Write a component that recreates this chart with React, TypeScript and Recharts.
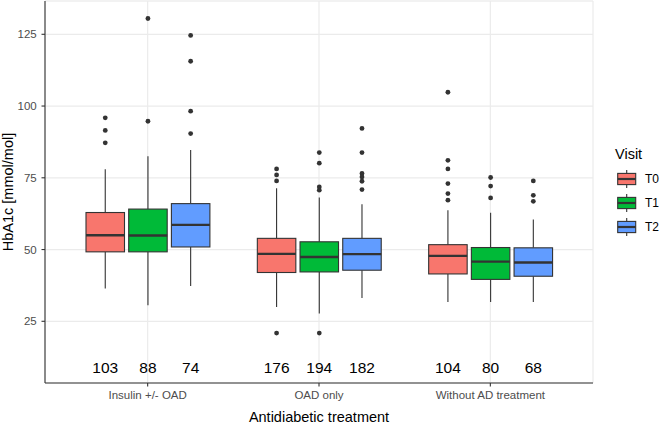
import React from 'react';
import { BarChart, Bar, XAxis, YAxis, CartesianGrid, Legend } from 'recharts';

const FONT = '"Liberation Sans", Arial, Helvetica, sans-serif';

const groups = ['Insulin +/- OAD', 'OAD only', 'Without AD treatment'];
const visits = ['T0', 'T1', 'T2'];
const visitColors = ['#F8766D', '#00BA38', '#619CFF'];

// [lower whisker, Q1, median, Q3, upper whisker] per treatment group
const boxT0 = [
  [36.4, 49.2, 55.0, 62.9, 78.0],
  [30.0, 42.0, 48.5, 53.9, 71.4],
  [31.7, 41.5, 47.8, 51.7, 63.7],
];
const boxT1 = [
  [30.6, 49.2, 54.9, 64.1, 82.5],
  [27.7, 42.2, 47.4, 52.7, 68.1],
  [31.7, 39.6, 45.8, 50.7, 62.8],
];
const boxT2 = [
  [37.3, 50.9, 58.6, 66.0, 84.7],
  [33.1, 42.8, 48.4, 53.9, 65.8],
  [31.7, 40.7, 45.5, 50.6, 60.5],
];

const outT0 = [
  [95.9, 91.5, 87.2],
  [78.1, 76.0, 73.9, 20.9],
  [104.8, 81.1, 78.1, 73.0, 69.5, 67.2],
];
const outT1 = [
  [130.5, 94.7],
  [83.8, 80.1, 71.8, 70.7, 20.9],
  [75.1, 72.1, 68.0],
];
const outT2 = [
  [124.6, 115.6, 98.2, 90.4],
  [92.2, 83.8, 76.5, 75.3, 73.8, 70.9],
  [73.9, 68.9, 66.8],
];

const nT0 = [103, 176, 104];
const nT1 = [88, 194, 80];
const nT2 = [74, 182, 68];

const yTicks = [25, 50, 75, 100, 125];
const yMinor = [12.5, 37.5, 62.5, 87.5, 112.5];
const yDomain = [3.5, 136.6];
const countLabelValue = 9;

const boxes: Record<string, number[][]> = { T0: boxT0, T1: boxT1, T2: boxT2 };
const outs: Record<string, number[][]> = { T0: outT0, T1: outT1, T2: outT2 };
const ns: Record<string, number[]> = { T0: nT0, T1: nT1, T2: nT2 };

const data = groups.map((g, i) => {
  const row: any = { group: g };
  visits.forEach((v) => {
    row[v] = boxes[v][i];
    row[v + 'out'] = outs[v][i];
    row[v + 'n'] = ns[v][i];
  });
  return row;
});

const STROKE = '#333333';

function renderBox(props: any, visit: string) {
  const { x, y, width, height, payload, fill } = props;
  const stats: number[] = payload[visit];
  const outliers: number[] = payload[visit + 'out'];
  const n: number = payload[visit + 'n'];
  const top = Math.min(y, y + height);
  const bot = Math.max(y, y + height);
  const lo = stats[0];
  const hi = stats[4];
  const py = (v: number) => bot - ((v - lo) / (hi - lo)) * (bot - top);
  const cx = x + width / 2;
  const q1 = py(stats[1]);
  const med = py(stats[2]);
  const q3 = py(stats[3]);
  return (
    <g>
      <line x1={cx} x2={cx} y1={py(hi)} y2={q3} stroke={STROKE} strokeWidth={1.1} />
      <line x1={cx} x2={cx} y1={q1} y2={py(lo)} stroke={STROKE} strokeWidth={1.1} />
      <rect x={x} y={q3} width={width} height={q1 - q3} fill={fill} stroke={STROKE} strokeWidth={1.1} />
      <line x1={x} x2={x + width} y1={med} y2={med} stroke={STROKE} strokeWidth={2.4} />
      {outliers.map((o, i) => (
        <circle key={i} cx={cx} cy={py(o)} r={2.4} fill={STROKE} />
      ))}
      <text
        x={cx}
        y={py(countLabelValue)}
        textAnchor="middle"
        dominantBaseline="central"
        fontSize={15.5}
        fontFamily={FONT}
        fill="#000"
      >
        {n}
      </text>
    </g>
  );
}

function renderLegend(props: any) {
  const payload = props.payload || [];
  return (
    <svg width={51} height={100} style={{ display: 'block' }}>
      <text x={5} y={19} fontSize={14.5} fontFamily={FONT} fill="#000">
        Visit
      </text>
      {payload.map((item: any, i: number) => {
        const cy = 39 + i * 24;
        const color = item.color || visitColors[i];
        return (
          <g key={i}>
            <line x1={16.7} x2={16.7} y1={cy - 9} y2={cy + 9} stroke={STROKE} strokeWidth={1.1} />
            <rect x={7.7} y={cy - 5.6} width={18} height={11.2} fill={color} stroke={STROKE} strokeWidth={1.1} />
            <line x1={7.7} x2={25.7} y1={cy} y2={cy} stroke={STROKE} strokeWidth={2.2} />
            <text x={35} y={cy} dominantBaseline="central" fontSize={12} fontFamily={FONT} fill="#000">
              {item.value}
            </text>
          </g>
        );
      })}
    </svg>
  );
}

const yLabel = (p: any) => {
  const vb = p.viewBox || { x: 0, y: 1, width: 45, height: 382 };
  const x = vb.x + 12.7;
  const y = vb.y + vb.height / 2;
  return (
    <text
      x={x}
      y={y}
      transform={`rotate(-90, ${x}, ${y})`}
      textAnchor="middle"
      fontSize={14.5}
      fontFamily={FONT}
      fill="#000"
    >
      HbA1c [mmol/mol]
    </text>
  );
};

const xLabel = (p: any) => {
  const vb = p.viewBox || { x: 45, y: 383, width: 548, height: 41 };
  return (
    <text
      x={vb.x + vb.width / 2}
      y={vb.y + 38.8}
      textAnchor="middle"
      fontSize={14.5}
      fontFamily={FONT}
      fill="#000"
    >
      Antidiabetic treatment
    </text>
  );
};

export default function App() {
  return (
    <div style={{ position: 'absolute', left: 0, top: 0, width: 661, height: 424, background: '#fff' }}>
      <BarChart
        width={661}
        height={424}
        data={data}
        margin={{ top: 1, right: 68, left: 0, bottom: 0 }}
        barGap={4.2}
        barSize={38.5}
      >
        <CartesianGrid yAxisId="right" vertical={false} stroke="#EDEDED" strokeWidth={0.8} />
        <CartesianGrid stroke="#EBEBEB" strokeWidth={1.2} />
        <XAxis
          dataKey="group"
          type="category"
          height={41}
          padding={{ left: 17, right: 17 }}
          tickSize={3.5}
          tickMargin={4.5}
          tickLine={{ stroke: STROKE, strokeWidth: 1.1 }}
          axisLine={{ stroke: STROKE, strokeWidth: 1.1 }}
          tick={{ fill: '#4D4D4D', fontSize: 11.5, fontFamily: FONT }}
          interval={0}
          label={{ content: xLabel }}
        />
        <XAxis
          xAxisId="top"
          dataKey="group"
          orientation="top"
          height={0}
          tick={false}
          tickLine={false}
          axisLine={{ stroke: STROKE, strokeWidth: 1.1 }}
        />
        <YAxis
          type="number"
          domain={yDomain}
          ticks={yTicks}
          allowDataOverflow
          width={45}
          tickSize={3.5}
          tickMargin={4.8}
          tickLine={{ stroke: STROKE, strokeWidth: 1.1 }}
          axisLine={{ stroke: STROKE, strokeWidth: 1.1 }}
          tick={{ fill: '#4D4D4D', fontSize: 11.5, fontFamily: FONT }}
          label={{ content: yLabel }}
        />
        <YAxis
          yAxisId="right"
          orientation="right"
          type="number"
          domain={yDomain}
          ticks={yMinor}
          allowDataOverflow
          width={0}
          tick={false}
          tickLine={false}
          axisLine={{ stroke: STROKE, strokeWidth: 1.1 }}
        />
        {visits.map((v, k) => (
          <Bar
            key={v}
            name={v}
            dataKey={(r: any) => [r[v][0], r[v][4]]}
            fill={visitColors[k]}
            barSize={38.5}
            isAnimationActive={false}
            shape={(p: any) => renderBox(p, v)}
          />
        ))}
        <Legend
          layout="horizontal"
          verticalAlign="middle"
          align="center"
          wrapperStyle={{ left: 610, top: 140, width: 51, height: 100 }}
          content={renderLegend}
        />
      </BarChart>
    </div>
  );
}
